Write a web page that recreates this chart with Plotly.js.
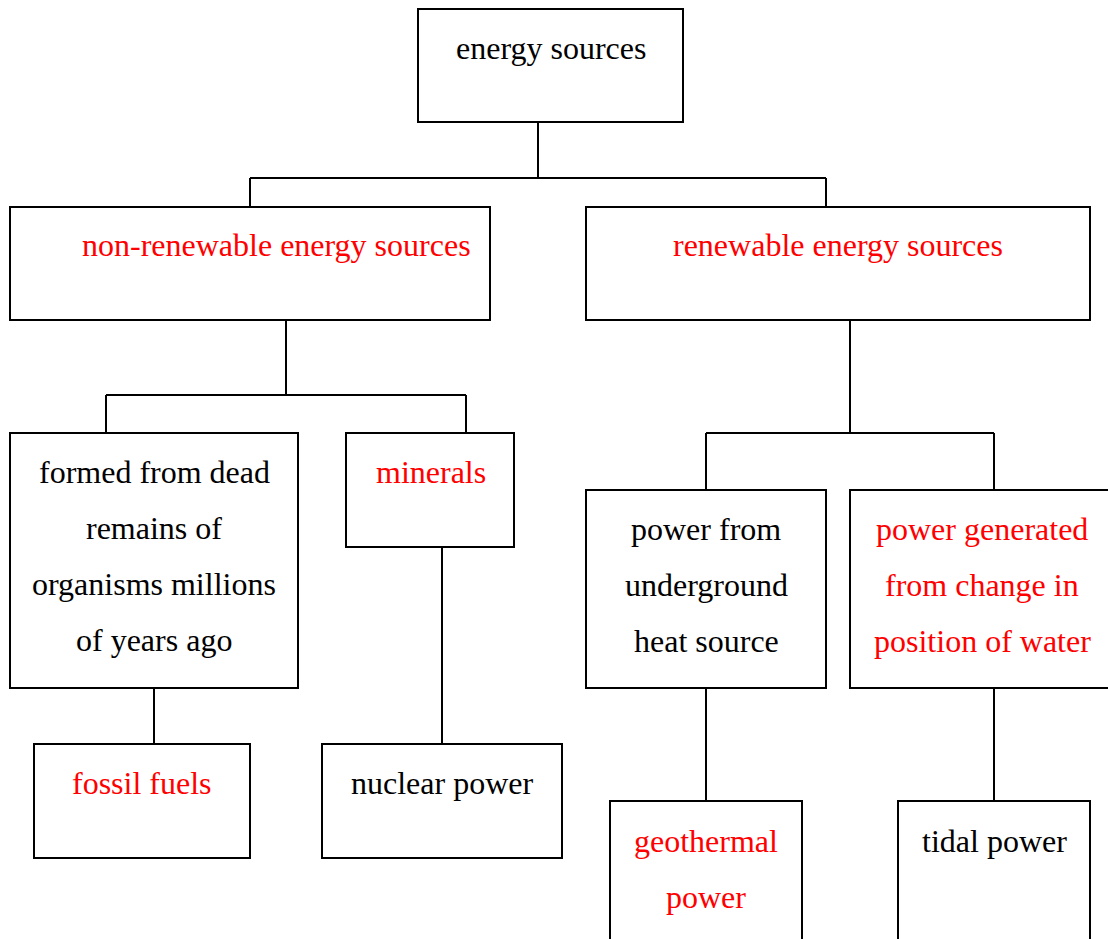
<!DOCTYPE html>
<html>
<head>
<meta charset="utf-8">
<script src="https://cdn.plot.ly/plotly-3.0.1.min.js"></script>
<style>html,body{margin:0;padding:0;background:#fff;}#chart{width:1108px;height:939px;}</style>
</head>
<body>
<div id="chart"></div>
<script>
// Node labels (one entry per box, lines separated by "|")
const nodeLabels = [
  "energy sources",
  "non-renewable energy sources",
  "renewable energy sources",
  "formed from dead|remains of|organisms millions|of years ago",
  "minerals",
  "power from|underground|heat source",
  "power generated|from change in|position of water",
  "fossil fuels",
  "nuclear power",
  "geothermal|power",
  "tidal power"
];
// Whether the label is highlighted (red) in the reference
const nodeHighlighted = [false, true, true, false, true, false, true, true, false, true, false];
// Parent of each node (-1 = root)
const nodeParent = [-1, 0, 0, 1, 1, 2, 2, 3, 4, 5, 6];

// ---- geometry (pixel layout of the diagram) ----
const boxX0 = [418, 10, 586, 10, 346, 586, 850, 34, 322, 610, 898];
const boxX1 = [683, 490, 1090, 298, 514, 826, 1140, 250, 562, 802, 1090];
const boxY0 = [9, 207, 207, 433, 433, 490, 490, 744, 744, 801, 801];
const boxY1 = [122, 320, 320, 688, 547, 688, 688, 858, 858, 980, 980];
const textX = [551, 276, 838, 154, 431, 706, 982, 142, 442, 706, 994];
const textY0 = [48, 245, 245, 472, 472, 529, 529, 783, 783, 841, 841];
const lineStep = 56;
// connector geometry for each parent: stem x, bar y, child drop x's
const connectors = [
  {x: 538, yTop: 122, yBar: 178, kids: [[250, 207], [826, 207]]},
  {x: 286, yTop: 320, yBar: 395, kids: [[106, 433], [466, 433]]},
  {x: 850, yTop: 320, yBar: 433, kids: [[706, 490], [994, 490]]},
  {x: 154, yTop: 688, yBar: null, kids: [[154, 744]]},
  {x: 442, yTop: 547, yBar: null, kids: [[442, 744]]},
  {x: 706, yTop: 688, yBar: null, kids: [[706, 801]]},
  {x: 994, yTop: 688, yBar: null, kids: [[994, 801]]}
];

const LINE = {color: '#000000', width: 2};
const shapes = [];
const annotations = [];

nodeLabels.forEach((lab, i) => {
  shapes.push({type: 'rect', xref: 'x', yref: 'y',
    x0: boxX0[i], x1: boxX1[i], y0: boxY0[i], y1: boxY1[i],
    line: LINE, fillcolor: 'rgba(0,0,0,0)'});
  lab.split('|').forEach((t, k) => {
    annotations.push({xref: 'x', yref: 'y', x: textX[i], y: textY0[i] + k * lineStep,
      text: t, showarrow: false, xanchor: 'center', yanchor: 'middle',
      font: {family: 'Liberation Serif, Times New Roman, serif', size: 32,
             color: nodeHighlighted[i] ? '#ff0000' : '#000000'}});
  });
});

connectors.forEach(c => {
  if (c.yBar === null) {
    c.kids.forEach(k => shapes.push({type: 'line', xref: 'x', yref: 'y',
      x0: c.x, x1: k[0], y0: c.yTop, y1: k[1], line: LINE}));
  } else {
    shapes.push({type: 'line', xref: 'x', yref: 'y', x0: c.x, x1: c.x, y0: c.yTop, y1: c.yBar, line: LINE});
    const xs = c.kids.map(k => k[0]);
    shapes.push({type: 'line', xref: 'x', yref: 'y', x0: Math.min(...xs), x1: Math.max(...xs), y0: c.yBar, y1: c.yBar, line: LINE});
    c.kids.forEach(k => shapes.push({type: 'line', xref: 'x', yref: 'y',
      x0: k[0], x1: k[0], y0: c.yBar, y1: k[1], line: LINE}));
  }
});

const layout = {
  width: 1108, height: 939,
  margin: {l: 0, r: 0, t: 0, b: 0, pad: 0},
  paper_bgcolor: '#ffffff', plot_bgcolor: '#ffffff',
  showlegend: false,
  font: {family: 'Liberation Serif, serif'},
  xaxis: {range: [0, 1108], visible: false, fixedrange: true},
  yaxis: {range: [939, 0], visible: false, fixedrange: true},
  shapes: shapes,
  annotations: annotations
};

Plotly.newPlot('chart', [], layout, {displayModeBar: false, staticPlot: true});
</script>
</body>
</html>
